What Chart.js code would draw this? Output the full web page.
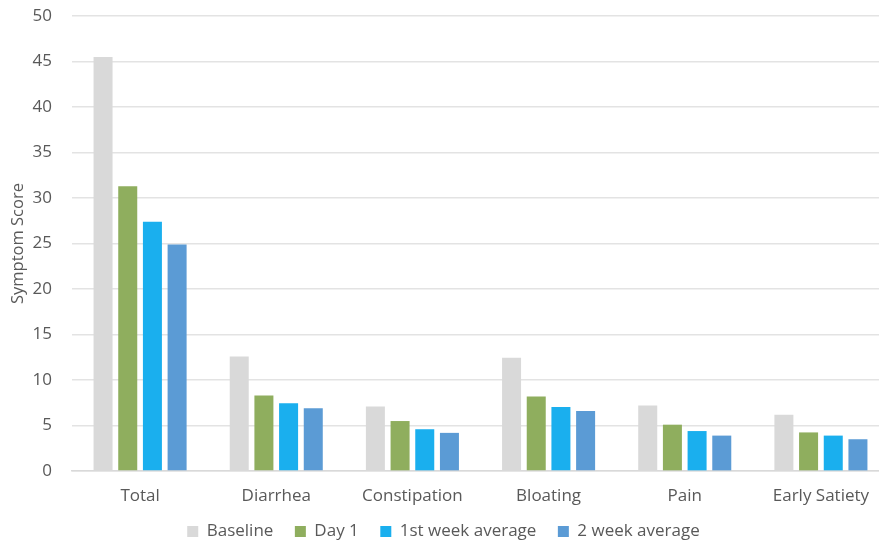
<!DOCTYPE html>
<html>
<head>
<meta charset="utf-8">
<script src="https://cdn.jsdelivr.net/npm/chart.js@4.4.1/dist/chart.umd.min.js"></script>
<style>
  html, body { margin: 0; padding: 0; background: #fff; }
  #wrap { width: 879px; height: 545px; }
</style>
</head>
<body>
<div id="wrap"><canvas id="chart" width="879" height="545"></canvas></div>
<script>
var categories = ['Total', 'Diarrhea', 'Constipation', 'Bloating', 'Pain', 'Early Satiety'];
var baseline = [45.5, 12.6, 7.1, 12.45, 7.2, 6.2];
var day1 = [31.3, 8.3, 5.5, 8.2, 5.1, 4.25];
var week1 = [27.4, 7.45, 4.6, 7.05, 4.4, 3.9];
var week2 = [24.9, 6.9, 4.2, 6.6, 3.9, 3.5];
var seriesNames = ['Baseline', 'Day 1', '1st week average', '2 week average'];
var colori = ['#D9D9D9', '#8FAE5E', '#1AAFEE', '#5B9BD5'];

var fontFamily = "'Open Sans', 'Liberation Sans', sans-serif";
var testo = '#595959';

// dopo il layout: legenda piu' in alto, area del grafico un po' oltre il bordo destro
var ritocchiLayout = {
   id: 'ritocchiLayout',
   afterLayout: function (chart) {
      var d = 20;
      chart.legend.top -= d;
      chart.legend.bottom -= d;

      var extra = 10;
      var xs = chart.scales.x;
      xs.right += extra;
      xs.width += extra;
      xs.configure();
      chart.chartArea.right += extra;
      chart.chartArea.width += extra;
   }
};

var ctx = document.getElementById('chart').getContext('2d');
var myChart = new Chart(ctx, {
   type: 'bar',
   data: {
      labels: categories,
      datasets: [baseline, day1, week1, week2].map(function (valori, i) {
         return {
            label: seriesNames[i],
            data: valori,
            backgroundColor: colori[i],
            borderWidth: 0,
            barPercentage: 0.77,
            categoryPercentage: 0.725
         };
      })
   },
   options: {
      responsive: false,
      animation: false,
      layout: { padding: { top: 16, right: 0, left: 8, bottom: -25 } },
      plugins: {
         tooltip: { enabled: false },
         legend: {
            position: 'bottom',
            labels: {
               boxWidth: 11,
               boxHeight: 11,
               padding: 21.5,
               color: testo,
               font: { family: fontFamily, size: 17 }
            }
         }
      },
      scales: {
         x: {
            grid: { display: false, drawTicks: false },
            border: { color: '#D9D9D9', width: 1.5 },
            ticks: {
               color: testo,
               padding: 15,
               font: { family: fontFamily, size: 17 }
            }
         },
         y: {
            min: 0,
            max: 50,
            grid: { color: '#E3E3E3', lineWidth: 1.5, drawTicks: true, tickLength: 16, tickColor: 'rgba(0,0,0,0)' },
            border: { display: false },
            ticks: {
               stepSize: 5,
               color: testo,
               padding: 4,
               font: { family: fontFamily, size: 17 }
            },
            title: {
               display: true,
               text: 'Symptom Score',
               color: testo,
               padding: { top: 0, bottom: 4 },
               font: { family: fontFamily, size: 16.5 }
            },
            afterFit: function (scale) {
               scale.width = 64;
            }
         }
      }
   },
   plugins: [ritocchiLayout]
});
</script>
</body>
</html>
